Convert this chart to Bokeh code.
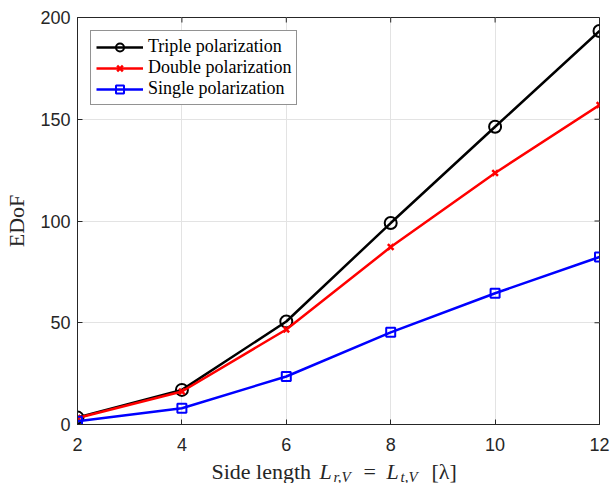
from bokeh.plotting import figure
from bokeh.models import Range1d, FixedTicker, Legend
from bokeh.layouts import column
from bokeh.core.properties import value
from bokeh.embed import file_html
from bokeh.resources import INLINE

# ---- data ----
side_length = [2, 4, 6, 8, 10, 12]
triple = [3.4, 17.0, 50.6, 99.0, 146.3, 193.4]
double = [3.2, 16.2, 46.7, 87.2, 123.6, 157.0]
single = [1.6, 8.0, 23.6, 45.3, 64.5, 82.3]
x_ticks = [2, 4, 6, 8, 10, 12]
y_ticks = [0, 50, 100, 150, 200]

W, H = 610, 483
H1 = 456                      # main figure height, x-label strip below
L, R, T, B = 77, 599, 17, 424
X0, X1, Y0, Y1 = 2, 12, 0, 200

p = figure(width=W, height=H1, output_backend="svg", toolbar_location=None,
           x_range=Range1d(X0, X1), y_range=Range1d(Y0, Y1),
           min_border_left=L, min_border_right=W - R, min_border_top=T,
           min_border_bottom=H1 - B)
p.background_fill_color = "white"
p.border_fill_color = "white"
p.outline_line_color = "#262626"
p.outline_line_width = 1

axis_col = "#262626"
tick_font = "Liberation Sans"

for ax in (p.xaxis[0], p.yaxis[0]):
    ax.axis_line_color = axis_col
    ax.major_tick_line_color = axis_col
    ax.major_tick_in = 5
    ax.major_tick_out = 0
    ax.minor_tick_line_color = None
    ax.major_label_text_font = tick_font
    ax.major_label_text_font_size = "18px"
    ax.major_label_text_color = axis_col

p.xaxis[0].ticker = FixedTicker(ticks=x_ticks)
p.yaxis[0].ticker = FixedTicker(ticks=y_ticks)
p.xaxis[0].major_label_standoff = 13
p.yaxis[0].major_label_standoff = 7
p.yaxis[0].axis_label = "EDoF"
p.yaxis[0].axis_label_text_font = "Liberation Serif"
p.yaxis[0].axis_label_text_font_style = "normal"
p.yaxis[0].axis_label_text_font_size = "22px"
p.yaxis[0].axis_label_text_color = axis_col
p.yaxis[0].axis_label_standoff = 8

p.xgrid.ticker = FixedTicker(ticks=x_ticks)
p.ygrid.ticker = FixedTicker(ticks=y_ticks)
p.xgrid.grid_line_color = "#e3e3e3"
p.ygrid.grid_line_color = "#e3e3e3"

# inward ticks on the top and right edges of the box (5 px long)
tx = 5 * (X1 - X0) / (R - L)
ty = 5 * (Y1 - Y0) / (B - T)
p.segment(x0=x_ticks, y0=[Y1] * len(x_ticks), x1=x_ticks, y1=[Y1 - ty] * len(x_ticks),
          line_color=axis_col, line_width=1)
p.segment(x0=[X1] * len(y_ticks), y0=y_ticks, x1=[X1 - tx] * len(y_ticks), y1=y_ticks,
          line_color=axis_col, line_width=1)

lw = 2.5
r1 = p.line(side_length, triple, color="black", line_width=lw)
m1 = p.scatter(side_length, triple, marker="circle", size=12, fill_color=None,
               line_color="black", line_width=2)
r2 = p.line(side_length, double, color="#ff0000", line_width=lw)
m2 = p.scatter(side_length, double, marker="x", size=8, line_color="#ff0000", line_width=2.5)
r3 = p.line(side_length, single, color="#0000ff", line_width=lw)
m3 = p.scatter(side_length, single, marker="square", size=9, fill_color=None,
               line_color="#0000ff", line_width=2)

legend = Legend(items=[("Triple polarization", [r1, m1]),
                       ("Double polarization", [r2, m2]),
                       ("Single polarization", [r3, m3])],
                location="top_left")
legend.margin = 13
legend.padding = 5
legend.spacing = 0
legend.glyph_width = 47
legend.glyph_height = 20
legend.label_height = 20
legend.label_standoff = 5
legend.label_text_font = "Liberation Serif"
legend.label_text_font_size = "18px"
legend.label_text_color = "black"
legend.border_line_color = axis_col
legend.border_line_width = 1
legend.background_fill_color = "white"
legend.background_fill_alpha = 1
p.add_layout(legend)

# ---- x-axis label strip (with subscripts), in page-pixel coordinates ----
H2 = H - H1
q = figure(width=W, height=H2, output_backend="svg", toolbar_location=None,
           x_range=Range1d(L, R), y_range=Range1d(0, H2),
           x_axis_type=None, y_axis_type=None,
           min_border_left=L, min_border_right=W - R, min_border_top=0, min_border_bottom=0)
q.outline_line_color = None
q.background_fill_color = "white"
q.border_fill_color = "white"
q.xgrid.visible = False
q.ygrid.visible = False

base = H - 471          # baseline measured from the bottom of the page
sub = H - 476
pieces = [
    ("Side length", 211, base, "normal", "22px"),
    ("L", 319, base, "italic", "22px"),
    ("r,V", 333, sub, "italic", "15px"),
    ("=", 363, base, "normal", "22px"),
    ("L", 386, base, "italic", "22px"),
    ("t,V", 400, sub, "italic", "15px"),
    ("[λ]", 431, base, "normal", "22px"),
]
for txt, px, py, style, size in pieces:
    q.text(x=[px], y=[py], text=[txt], text_font=value("Liberation Serif"),
           text_font_style=value(style), text_font_size=value(size),
           text_color=axis_col, text_align="left", text_baseline="alphabetic")

layout = column(p, q, spacing=0)
open("out.html", "w").write(file_html(layout, INLINE))
